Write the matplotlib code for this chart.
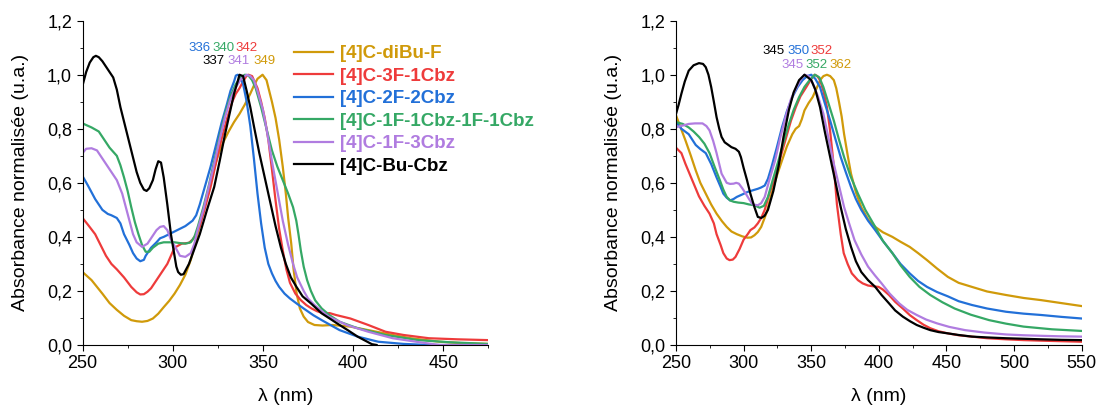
import matplotlib
matplotlib.use("Agg")
import matplotlib.pyplot as plt
from matplotlib.ticker import MultipleLocator, FuncFormatter

plt.rcParams['font.family'] = ['Liberation Sans', 'DejaVu Sans']

names = ["[4]C-diBu-F", "[4]C-3F-1Cbz", "[4]C-2F-2Cbz",
         "[4]C-1F-1Cbz-1F-1Cbz", "[4]C-1F-3Cbz", "[4]C-Bu-Cbz"]
colors = ["#D09A0A", "#EE3B3B", "#2270D8", "#35A865", "#B07CE0", "#000000"]

# ---- left panel (nm, normalised absorbance) ----
diBuF_x = [250, 255, 261, 265, 269, 273, 277, 280, 283, 286, 289, 292, 295, 298, 301, 304, 307, 310, 313,
           316, 319, 322, 325, 328, 331, 334, 337, 340, 343, 345, 347, 349.8, 352, 355, 357, 359, 361, 362.7,
           364, 365.7, 367, 368.7, 370.5, 372.6, 375, 378.6, 383, 388.5, 398.5, 408.4, 422, 432, 448, 462, 475]
diBuF_y = [0.27, 0.24, 0.19, 0.155, 0.13, 0.108, 0.092, 0.088, 0.086, 0.089, 0.098, 0.116, 0.14, 0.163, 0.19,
           0.222, 0.26, 0.315, 0.39, 0.47, 0.55, 0.63, 0.70, 0.75, 0.79, 0.825, 0.855, 0.89, 0.93, 0.96, 0.985,
           1.0, 0.98, 0.90, 0.84, 0.76, 0.66, 0.56, 0.47, 0.375, 0.28, 0.19, 0.135, 0.105, 0.085, 0.074, 0.072,
           0.074, 0.068, 0.055, 0.037, 0.025, 0.012, 0.006, 0.004]
F3_x = [250, 253, 257, 260, 263, 266, 269, 273, 277, 280, 282, 284, 286, 288, 291, 294, 297, 301, 305,
        309, 311, 313, 315, 318, 321, 324, 327, 330, 333, 335, 337, 339, 341, 342, 344, 345, 347, 349, 351,
        353, 355, 357, 359, 361, 363, 365, 368, 371, 374, 377, 380, 383.5, 387, 390.5, 398.5, 408.4, 418,
        428, 442, 458, 475]
F3_y = [0.47, 0.445, 0.41, 0.37, 0.33, 0.30, 0.28, 0.25, 0.215, 0.195, 0.187, 0.188, 0.197, 0.21, 0.24,
        0.27, 0.30, 0.36, 0.375, 0.378, 0.39, 0.41, 0.44, 0.51, 0.585, 0.675, 0.76, 0.835, 0.90, 0.93, 0.95,
        0.975, 0.997, 1.0, 0.995, 0.98, 0.95, 0.90, 0.84, 0.76, 0.65, 0.535, 0.43, 0.35, 0.28, 0.23, 0.19,
        0.166, 0.148, 0.135, 0.125, 0.117, 0.118, 0.111, 0.098, 0.074, 0.049, 0.037, 0.025, 0.021, 0.018]
F2_x = [250, 253, 257, 261, 264, 266, 269, 271, 273, 276, 278, 280, 282, 284, 285, 288, 291, 293, 295,
        298, 301, 304, 307, 309, 311, 313, 315, 318, 321, 324, 327, 330, 332, 334, 335, 336, 337, 339, 341,
        343, 345, 347, 349, 351, 353, 355, 357, 359, 362, 365, 369, 372.6, 378, 382.6, 392.5, 402.5, 414,
        428, 442, 475]
F2_y = [0.625, 0.59, 0.54, 0.50, 0.485, 0.48, 0.47, 0.45, 0.41, 0.37, 0.34, 0.32, 0.31, 0.315, 0.33, 0.36,
        0.38, 0.395, 0.40, 0.41, 0.42, 0.43, 0.44, 0.45, 0.46, 0.48, 0.52, 0.59, 0.66, 0.74, 0.82, 0.89,
        0.94, 0.975, 0.997, 1.0, 0.995, 0.966, 0.90, 0.81, 0.69, 0.56, 0.45, 0.36, 0.30, 0.265, 0.237,
        0.215, 0.19, 0.172, 0.152, 0.135, 0.11, 0.092, 0.055, 0.031, 0.012, 0.004, 0.0, 0.0]
F1C1_x = [250, 255, 259, 262, 265, 269, 271, 273, 275, 277, 279, 281, 283, 285, 287, 289, 292, 295, 298,
          301, 304, 307, 310, 312, 314, 317, 320, 323, 326, 329, 332, 335, 338, 340, 342, 344, 346, 349, 352,
          355, 358, 361, 364, 366.7, 368.5, 369.7, 371, 372.6, 374.5, 376.6, 379, 382.6, 387, 392.5, 402.5,
          418, 436, 454, 475]
F1C1_y = [0.82, 0.805, 0.79, 0.76, 0.73, 0.70, 0.665, 0.62, 0.57, 0.51, 0.455, 0.41, 0.37, 0.345, 0.345,
          0.36, 0.375, 0.38, 0.38, 0.38, 0.377, 0.375, 0.38, 0.40, 0.44, 0.51, 0.59, 0.68, 0.77, 0.855,
          0.92, 0.966, 0.992, 1.0, 0.997, 0.98, 0.95, 0.88, 0.80, 0.72, 0.66, 0.61, 0.56, 0.51, 0.46, 0.41,
          0.35, 0.29, 0.24, 0.20, 0.165, 0.135, 0.11, 0.086, 0.062, 0.037, 0.018, 0.01, 0.004]
F1_x = [250, 252, 255, 258, 261, 263, 266, 269, 272, 274, 276, 278, 280, 283, 286, 288, 291, 293, 295,
        297, 299, 302, 304, 307, 310, 312, 314, 317, 320, 323, 326, 329, 332, 335, 338, 341, 343, 345, 347,
        350, 352, 355, 358, 361, 364, 366.7, 369, 372.6, 375, 378.6, 382, 386.5, 396.5, 408.4, 422, 438,
        448, 475]
F1_y = [0.71, 0.726, 0.728, 0.72, 0.69, 0.67, 0.64, 0.61, 0.56, 0.51, 0.46, 0.41, 0.38, 0.363, 0.375, 0.395,
        0.425, 0.437, 0.44, 0.425, 0.39, 0.355, 0.33, 0.326, 0.34, 0.375, 0.43, 0.50, 0.585, 0.67, 0.76,
        0.843, 0.91, 0.954, 0.985, 1.0, 0.995, 0.98, 0.94, 0.87, 0.80, 0.68, 0.57, 0.46, 0.37, 0.30, 0.25,
        0.20, 0.172, 0.148, 0.128, 0.105, 0.074, 0.049, 0.025, 0.009, 0.0, 0.0]
Bu_x = [250, 252, 254, 256, 257.4, 259, 261, 263, 265, 267, 269, 271, 274, 277, 280, 282, 284, 285.5, 287,
        289, 290.5, 292, 293.5, 295, 297, 299, 301, 302, 303, 304.5, 306, 309, 312, 315, 319, 323, 326, 329,
        332, 334, 336, 337, 339, 341, 343, 345, 348, 351, 354, 357, 360, 362.7, 365.5, 368.6, 372, 376.6,
        382.6, 387, 392.5, 397, 402.5, 407, 410.4, 413]
Bu_y = [0.96, 1.01, 1.045, 1.065, 1.07, 1.065, 1.05, 1.03, 1.01, 0.99, 0.945, 0.88, 0.80, 0.72, 0.64, 0.60,
        0.575, 0.57, 0.58, 0.61, 0.65, 0.68, 0.675, 0.62, 0.52, 0.41, 0.33, 0.29, 0.27, 0.26, 0.262, 0.30,
        0.355, 0.41, 0.50, 0.585, 0.68, 0.78, 0.87, 0.93, 0.975, 1.0, 0.995, 0.94, 0.88, 0.81, 0.71, 0.62,
        0.53, 0.44, 0.36, 0.30, 0.25, 0.215, 0.18, 0.154, 0.117, 0.098, 0.074, 0.055, 0.031, 0.015, 0.003, 0.0]

# ---- right panel ----
r_diBuF_x = [250, 253, 257, 261, 264.6, 268, 272, 276, 280, 284, 287.5, 291, 295, 299, 302.8, 305.5, 308,
             310.5, 313, 317, 320.7, 324.5, 328.4, 332, 336, 338.5, 341, 343, 345, 348, 351, 354, 356.5, 359,
             361.6, 364, 366.7, 368.5, 370.5, 372.5, 374.3, 377, 379.4, 383, 387, 392, 397.3, 403, 410, 416,
             422.8, 429, 435.6, 443, 451, 459, 468.8, 480, 494, 507, 520, 535, 550]
r_diBuF_y = [0.85, 0.81, 0.757, 0.70, 0.646, 0.60, 0.56, 0.52, 0.486, 0.458, 0.437, 0.42, 0.41, 0.402,
             0.397, 0.398, 0.406, 0.418, 0.437, 0.49, 0.56, 0.625, 0.683, 0.735, 0.78, 0.80, 0.81, 0.835,
             0.868, 0.895, 0.917, 0.95, 0.98, 0.995, 1.0, 0.995, 0.98, 0.95, 0.90, 0.845, 0.78, 0.70, 0.634,
             0.565, 0.51, 0.465, 0.437, 0.417, 0.40, 0.382, 0.363, 0.34, 0.314, 0.283, 0.252, 0.23, 0.215,
             0.198, 0.185, 0.174, 0.166, 0.155, 0.144]
r_F3_x = [250, 254, 257, 262, 267, 271, 274.8, 278, 280, 283, 285, 287.5, 289.6, 292, 294, 297, 300, 303,
          305, 308, 310.5, 313, 315.6, 319, 323.3, 327, 331, 335, 338.6, 342, 346.3, 350, 352.6, 354.5,
          356.5, 359, 361.6, 364, 366.7, 369, 371.8, 374, 376.9, 380, 384.5, 388, 392, 396, 399.8, 403,
          407.5, 412, 417.7, 423, 428, 433, 438, 444, 451, 459, 468.8, 480, 494, 507, 520, 535, 550]
r_F3_y = [0.73, 0.71, 0.67, 0.61, 0.55, 0.515, 0.486, 0.45, 0.41, 0.37, 0.34, 0.32, 0.314, 0.316, 0.326,
          0.355, 0.39, 0.41, 0.425, 0.435, 0.45, 0.47, 0.50, 0.56, 0.62, 0.69, 0.76, 0.83, 0.88, 0.92, 0.954,
          0.985, 1.0, 0.995, 0.98, 0.94, 0.88, 0.79, 0.66, 0.52, 0.41, 0.34, 0.30, 0.265, 0.24, 0.228, 0.22,
          0.217, 0.215, 0.205, 0.185, 0.16, 0.135, 0.11, 0.092, 0.075, 0.062, 0.051, 0.043, 0.036, 0.031,
          0.025, 0.021, 0.018, 0.016, 0.014, 0.012]
r_F2_x = [250, 254, 259.4, 262, 264.6, 268, 272, 276, 280, 283, 285, 287.5, 290, 292.5, 295, 299, 302.8,
          306.5, 310.5, 313, 315.6, 318, 320.7, 324.5, 328.4, 332, 336, 340, 343.6, 347, 350, 353, 356.5,
          360, 364, 368, 371.8, 375.5, 379.4, 383, 387, 392, 397.3, 403, 410, 416, 422.8, 429, 435.6, 443,
          451, 459, 468.8, 480, 494, 507, 520, 535, 550]
r_F2_y = [0.825, 0.80, 0.78, 0.76, 0.74, 0.725, 0.71, 0.67, 0.62, 0.585, 0.56, 0.545, 0.535, 0.54, 0.548,
          0.557, 0.566, 0.572, 0.578, 0.583, 0.59, 0.615, 0.66, 0.73, 0.806, 0.865, 0.917, 0.955, 0.98,
          0.995, 1.0, 0.985, 0.954, 0.895, 0.83, 0.76, 0.695, 0.64, 0.585, 0.54, 0.50, 0.46, 0.425, 0.385,
          0.34, 0.30, 0.265, 0.237, 0.215, 0.196, 0.18, 0.162, 0.148, 0.135, 0.123, 0.116, 0.111, 0.104,
          0.098]
r_F1C1_x = [250, 255, 259.4, 263, 267, 271, 274.8, 278.5, 282.4, 285, 287.5, 290, 292.6, 296, 300, 304,
            308, 311.8, 315, 318, 321.5, 325.8, 329.5, 333.5, 337, 341, 345, 348.8, 352.6, 356, 359, 363,
            366.7, 370.5, 374.3, 379, 384.5, 390, 397.3, 403, 410, 416, 422.8, 430, 438, 447, 456, 468,
            481.5, 494, 507, 528, 550]
r_F1C1_y = [0.825, 0.818, 0.805, 0.79, 0.77, 0.745, 0.71, 0.66, 0.61, 0.575, 0.548, 0.535, 0.53, 0.527,
            0.525, 0.52, 0.517, 0.508, 0.515, 0.548, 0.61, 0.683, 0.75, 0.818, 0.87, 0.917, 0.955, 0.98,
            1.0, 0.99, 0.954, 0.89, 0.83, 0.76, 0.695, 0.625, 0.56, 0.50, 0.437, 0.385, 0.34, 0.295, 0.252,
            0.215, 0.185, 0.158, 0.135, 0.112, 0.092, 0.079, 0.068, 0.058, 0.052]
r_F1_x = [250, 255, 259.4, 264, 269.6, 272.5, 274.8, 277.5, 280, 283.7, 287.5, 290, 292.6, 294.5, 296.5,
          299, 301.6, 304, 306.7, 310.5, 313, 315.6, 319, 323.3, 327, 331, 335, 338.6, 342, 345, 348, 351,
          355, 359, 363, 366.7, 370.5, 374.3, 378, 382, 387, 392, 397, 402, 408, 415, 421, 428, 435, 443,
          452, 463.7, 478, 494, 507, 520, 535, 550]
r_F1_y = [0.806, 0.812, 0.818, 0.82, 0.82, 0.81, 0.794, 0.755, 0.71, 0.634, 0.60, 0.596, 0.597, 0.60,
          0.597, 0.58, 0.56, 0.54, 0.52, 0.517, 0.525, 0.548, 0.61, 0.683, 0.765, 0.843, 0.91, 0.948, 0.98,
          1.0, 0.995, 0.97, 0.92, 0.855, 0.76, 0.67, 0.59, 0.51, 0.45, 0.388, 0.335, 0.29, 0.258, 0.228,
          0.19, 0.154, 0.13, 0.111, 0.094, 0.08, 0.067, 0.055, 0.046, 0.039, 0.036, 0.034, 0.032, 0.031]
r_Bu_x = [250, 252, 254, 256.5, 259.4, 263, 267, 270, 272, 274, 276, 278, 280, 282, 283.7, 286, 288.8, 291,
          294, 296.5, 298, 300, 302.5, 305, 308, 310.5, 313, 315.5, 318, 322, 325.8, 329.5, 333.5, 337, 341,
          345, 350, 353, 356.5, 360, 364, 368, 371.8, 375.5, 379.4, 383, 387, 392, 397.3, 402, 407.5, 412,
          417.7, 423, 428, 433, 438, 444, 451, 459, 468.8, 480, 494, 507, 520, 535, 550]
r_Bu_y = [0.855, 0.89, 0.93, 0.975, 1.015, 1.035, 1.043, 1.04, 1.028, 1.0, 0.955, 0.90, 0.843, 0.80, 0.77,
          0.75, 0.74, 0.732, 0.726, 0.715, 0.695, 0.655, 0.61, 0.56, 0.51, 0.474, 0.47, 0.478, 0.50, 0.57,
          0.66, 0.77, 0.87, 0.935, 0.98, 1.0, 0.98, 0.945, 0.88, 0.79, 0.695, 0.60, 0.51, 0.43, 0.363, 0.31,
          0.27, 0.24, 0.215, 0.185, 0.154, 0.128, 0.105, 0.088, 0.074, 0.064, 0.055, 0.048, 0.043, 0.037,
          0.031, 0.028, 0.025, 0.023, 0.021, 0.019, 0.018]

left_series = [(diBuF_x, diBuF_y), (F3_x, F3_y), (F2_x, F2_y), (F1C1_x, F1C1_y), (F1_x, F1_y), (Bu_x, Bu_y)]
right_series = [(r_diBuF_x, r_diBuF_y), (r_F3_x, r_F3_y), (r_F2_x, r_F2_y),
                (r_F1C1_x, r_F1C1_y), (r_F1_x, r_F1_y), (r_Bu_x, r_Bu_y)]

# peak maxima labels: (text, colour index, x, y)
left_peaks = [("336", 2, 314.6, 1.098), ("340", 3, 328.3, 1.098), ("342", 1, 340.9, 1.098),
              ("337", 5, 322.6, 1.052), ("341", 4, 336.3, 1.052), ("349", 0, 350.8, 1.052)]
right_peaks = [("345", 5, 321.9, 1.089), ("350", 2, 340.3, 1.089), ("352", 1, 357.9, 1.089),
               ("345", 4, 336.5, 1.037), ("352", 3, 354.1, 1.037), ("362", 0, 371.7, 1.037)]

comma = FuncFormatter(lambda v, p: f"{v:.1f}".replace(".", ","))

fig = plt.figure(figsize=(10.99, 4.09), dpi=100)
ax1 = fig.add_axes([0.0751, 0.1565, 0.3693, 0.7929])
ax2 = fig.add_axes([0.6151, 0.1565, 0.3692, 0.7929])


def style(ax, xmax, series, peaks):
    for (x, y), c, n in zip(series, colors, names):
        ax.plot(x, y, color=c, lw=1.6, label=n, solid_joinstyle='round')
    ax.set_xlim(250, xmax)
    ax.set_ylim(0, 1.2)
    ax.spines['top'].set_visible(False)
    ax.spines['right'].set_visible(False)
    ax.xaxis.set_major_locator(MultipleLocator(50))
    ax.xaxis.set_minor_locator(MultipleLocator(25))
    ax.yaxis.set_major_locator(MultipleLocator(0.2))
    ax.yaxis.set_minor_locator(MultipleLocator(0.1))
    ax.yaxis.set_major_formatter(comma)
    ax.tick_params(which='major', direction='out', length=4, labelsize=13)
    ax.tick_params(which='minor', direction='out', length=2.5)
    ax.set_xlabel("λ (nm)", fontsize=14, labelpad=11)
    ax.set_ylabel("Absorbance normalisée (u.a.)", fontsize=14)
    for t, ci, x, y in peaks:
        ax.text(x, y, t, color=colors[ci], fontsize=9.5, ha='center', va='center')


style(ax1, 475, left_series, left_peaks)
style(ax2, 550, right_series, right_peaks)
ax1.yaxis.set_label_coords(-0.131, 0.5)
ax2.yaxis.set_label_coords(-0.133, 0.5)

leg = ax1.legend(loc='upper left', bbox_to_anchor=(0.52, 0.925), frameon=False,
                 prop={'weight': 'bold', 'size': 13.5}, handlelength=2.1, handletextpad=0.35,
                 labelspacing=0.29, borderaxespad=0, borderpad=0)
for txt, c in zip(leg.get_texts(), colors):
    txt.set_color(c)

fig.savefig("out.png", dpi=100)
